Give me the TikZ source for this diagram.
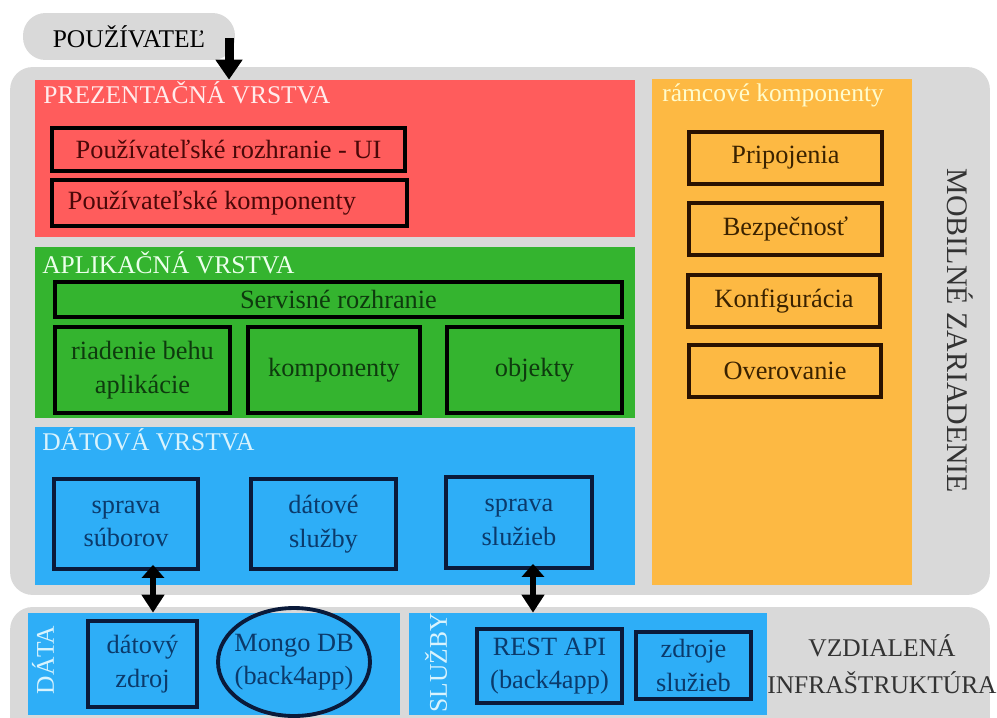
\documentclass[tikz,border=0pt]{standalone}
\usepackage{fontspec}
\setmainfont{Liberation Serif}
\usetikzlibrary{arrows.meta,shapes.geometric}

\definecolor{panelgrey}{HTML}{D9D9D9}
\definecolor{prezred}{HTML}{FF5C5C}
\definecolor{aplgreen}{HTML}{34B42F}
\definecolor{datblue}{HTML}{2EAEF7}
\definecolor{ramcorange}{HTML}{FDB943}
\definecolor{redtext}{HTML}{4A0808}
\definecolor{greentext}{HTML}{0E3A0E}
\definecolor{bluetext}{HTML}{0B3A6B}
\definecolor{orangetext}{HTML}{3A2200}
\definecolor{blueline}{HTML}{0A1A3A}
\definecolor{orangeline}{HTML}{2A1200}
\definecolor{darkgreytext}{HTML}{333333}

\begin{document}
\begin{tikzpicture}[
    x=0.02cm, y=-0.02cm,
    every node/.style={font=\fontsize{15}{19}\selectfont},
    panel/.style={fill=panelgrey, rounded corners=0.45cm, inner sep=0pt},
    layer/.style={inner sep=0pt},
    title/.style={anchor=west, inner sep=0pt, font=\fontsize{14.5}{17}\selectfont},
    innerbox/.style={
        draw,
        line width=2.2pt,
        align=center,
        inner sep=0pt
    },
    bigarrow/.style={-{Triangle[width=0.52cm,length=0.4cm]}, line width=0.18cm},
    dblarrow/.style={
        {Triangle[width=0.44cm,length=0.26cm]}-{Triangle[width=0.44cm,length=0.36cm]},
        line width=0.12cm,
        shorten <=-0.12cm
    }
]
\clip (0,0) rectangle (997,717);

% Grey panels
\node[panel, minimum width=4.24cm, minimum height=0.94cm,
      font=\fontsize{14.5}{17}\selectfont] (user) at (129,36.5) {POUŽÍVATEĽ};
\node[panel, minimum width=19.6cm, minimum height=10.56cm] (mobile) at (500,331) {};
\node[panel, minimum width=19.6cm, minimum height=2.66cm] (remote) at (500,673.5) {};

% Layers
\node[layer, fill=prezred, minimum width=12cm, minimum height=3.14cm] (prez) at (335,158.5) {};
\node[layer, fill=aplgreen, minimum width=12cm, minimum height=3.42cm] (apl) at (335,332.5) {};
\node[layer, fill=datblue, minimum width=12cm, minimum height=3.16cm] (dat) at (335,506) {};
\node[layer, fill=ramcorange, minimum width=5.2cm, minimum height=10.12cm] (ramc) at (782,332) {};
\node[layer, fill=datblue, minimum width=7.44cm, minimum height=2.04cm] (datablok) at (214,664) {};
\node[layer, fill=datblue, minimum width=7.16cm, minimum height=2.04cm] (sluzbyblok) at (588,664) {};

% Layer titles
\node[title, text=red!8!white] (preztitle) at (43,93) {PREZENTAČNÁ VRSTVA};
\node[title, text=green!8!white] (apltitle) at (42,263) {APLIKAČNÁ VRSTVA};
\node[title, text=cyan!15!white] (dattitle) at (42,440) {DÁTOVÁ VRSTVA};
\node[title, text=yellow!20!white] (ramctitle) at (662,95) {rámcové komponenty};

% Presentation layer
\node[innerbox, draw=black, text=redtext, minimum width=7.06cm, minimum height=0.86cm]
    (ui) at (228.5,149.5) {Používateľské rozhranie - UI};
\node[innerbox, draw=black, text=redtext, minimum width=7.1cm, minimum height=0.92cm]
    (userkomp) at (229.5,203) {Používateľské komponenty\hspace{0.7cm}};

% Application layer
\node[innerbox, draw=black, text=greentext, minimum width=11.34cm, minimum height=0.7cm]
    (servis) at (338.5,299.5) {Servisné rozhranie};
\node[innerbox, draw=black, text=greentext, minimum width=3.5cm, minimum height=1.72cm]
    (riadenie) at (142.5,370) {riadenie behu\\aplikácie};
\node[innerbox, draw=black, text=greentext, minimum width=3.44cm, minimum height=1.72cm]
    (aplkomp) at (334,370) {komponenty};
\node[innerbox, draw=black, text=greentext, minimum width=3.5cm, minimum height=1.72cm]
    (objekty) at (534.5,370) {objekty};

% Data layer
\node[innerbox, draw=blueline, text=bluetext, minimum width=2.88cm, minimum height=1.8cm]
    (subory) at (126,524) {sprava\\súborov};
\node[innerbox, draw=blueline, text=bluetext, minimum width=2.9cm, minimum height=1.8cm]
    (datsluzby) at (323.5,524) {dátové\\služby};
\node[innerbox, draw=blueline, text=bluetext, minimum width=2.92cm, minimum height=1.82cm]
    (sluzieb) at (519,522.5) {sprava\\služieb};

% Framework components
\node[innerbox, draw=orangeline, text=orangetext, minimum width=3.86cm, minimum height=1.04cm]
    (pripoj) at (785.5,158) {Pripojenia};
\node[innerbox, draw=orangeline, text=orangetext, minimum width=3.86cm, minimum height=1.04cm]
    (bezpec) at (785.5,229) {Bezpečnosť};
\node[innerbox, draw=orangeline, text=orangetext, minimum width=3.84cm, minimum height=1.04cm]
    (konfig) at (784,301) {Konfigurácia};
\node[innerbox, draw=orangeline, text=orangetext, minimum width=3.84cm, minimum height=1.04cm]
    (overov) at (785,371) {Overovanie};

\node[rotate=-90, text=darkgreytext, font=\fontsize{17}{20}\selectfont]
    (mobiltext) at (960,331) {MOBILNÉ ZARIADENIE};

% Remote infrastructure
\node[rotate=90, text=cyan!15!white, font=\fontsize{14.5}{17}\selectfont]
    (datatext) at (43,660) {DÁTA};
\node[rotate=90, text=cyan!15!white, font=\fontsize{14.5}{17}\selectfont]
    (sluzbytext) at (436,663) {SLUŽBY};
\node[innerbox, draw=blueline, text=bluetext, minimum width=2.18cm, minimum height=1.72cm]
    (datzdroj) at (142.5,664) {dátový\\zdroj};
\node[innerbox, draw=blueline, text=bluetext, ellipse, inner sep=-6pt,
      minimum width=3.04cm, minimum height=2.16cm]
    (mongo) at (294,662) {Mongo DB\\(back4app)};
\node[innerbox, draw=blueline, text=bluetext, minimum width=2.9cm, minimum height=1.48cm]
    (restapi) at (549.5,666) {REST API\\(back4app)};
\node[innerbox, draw=blueline, text=bluetext, minimum width=2.3cm, minimum height=1.34cm]
    (zdroje) at (693.5,665.5) {zdroje\\služieb};
\node[align=center, text=darkgreytext, font=\fontsize{14.5}{21}\selectfont]
    (remotetext) at (882,664) {VZDIALENÁ\\INFRAŠTRUKTÚRA};

% Arrows
\coordinate (userdrop) at (229,38);
\coordinate (leftlink) at (153,0);
\coordinate (rightlink) at (533,0);
\draw[bigarrow] (userdrop) -- (userdrop |- prez.north);
\draw[dblarrow] (subory.south -| leftlink) -- (datablok.north -| leftlink);
\draw[dblarrow] (sluzieb.south -| rightlink) -- (sluzbyblok.north -| rightlink);

\end{tikzpicture}
\end{document}
